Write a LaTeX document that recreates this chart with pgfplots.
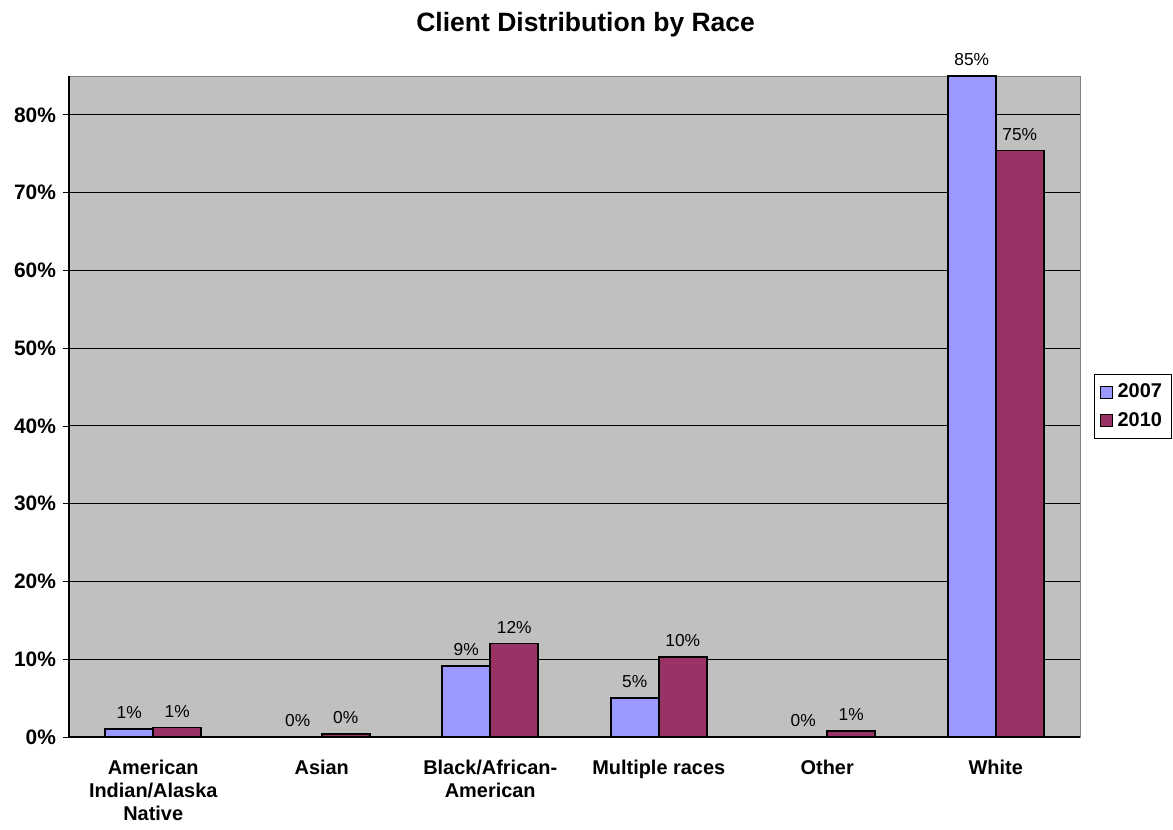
\documentclass[border=0pt]{standalone}
\usepackage{pgfplots}
\pgfplotsset{compat=1.18}
\usepackage{fontspec}
\setmainfont{Liberation Sans}
\definecolor{bgc}{HTML}{C0C0C0}
\definecolor{c07}{HTML}{9999FF}
\definecolor{c10}{HTML}{993366}
\begin{document}
\begin{tikzpicture}
\useasboundingbox (-34.5bp,-46.5bp) rectangle (552bp,368.5bp);
\begin{axis}[
  at={(0,0)}, anchor=south west,
  scale only axis, width=505.5bp, height=330.5bp,
  ybar=0pt, bar width=24bp,
  xmin=-0.5, xmax=5.5, ymin=0, ymax=85,
  xtick={0,1,2,3,4,5},
  xticklabels={American\\Indian/Alaska\\Native, Asian, Black/African-\\American, Multiple races, Other, White},
  xticklabel style={font=\fontsize{10}{11.5}\selectfont\bfseries, align=center, text depth=0pt, yshift=-5bp},
  major x tick style={draw=none},
  extra x ticks={-0.5,0.5,1.5,2.5,3.5,4.5,5.5},
  extra x tick labels={},
  extra x tick style={tick align=outside, major tick length=4bp, grid=none, tick style={black, thin}},
  ytick={0,10,20,30,40,50,60,70,80},
  yticklabel={\pgfmathprintnumber{\tick}\%},
  yticklabel style={font=\fontsize{10.5}{12}\selectfont\bfseries},
  /pgf/number format/assume math mode=true,
  ymajorgrids, grid style={black, line width=0.5pt},
  y tick style={black, thin}, tick align=outside, major tick length=3bp,
  xtick pos=bottom, ytick pos=left,
  axis line style={draw=gray},
  axis background/.style={fill=bgc},
  nodes near coords={\pgfmathprintnumber[fixed,precision=0]{\pgfplotspointmeta}\%},
  every node near coord/.append style={font=\fontsize{8.7}{10}\selectfont, black, yshift=1.5bp},
  legend style={at={(1.014,0.549)}, anchor=north west, draw=black, line width=0.5pt, font=\fontsize{10}{12}\selectfont\bfseries, row sep=2bp, inner sep=2.5bp,
    nodes={inner xsep=2.5bp}},
  legend cell align=left,
  legend image code/.code={\draw[#1, line width=0.5pt] (0bp,-3bp) rectangle (6bp,3bp);},
  clip=false,
]
\addplot[fill=c07, draw=black, line width=0.8pt] coordinates {(0,1.0) (1,0) (2,9.1) (3,5.0) (4,0) (5,85.0)};
\addplot[fill=c10, draw=black, line width=0.8pt] coordinates {(0,1.2) (1,0.4) (2,12.0) (3,10.3) (4,0.8) (5,75.4)};
\legend{2007,2010}
\draw[black, line width=0.6pt] (rel axis cs:0,0) -- (rel axis cs:0,1);
\draw[black, line width=0.6pt] (rel axis cs:0,0) -- (rel axis cs:1,0);
\node[font=\fontsize{13.3}{15}\selectfont\bfseries] at (rel axis cs:0.511,1.078) {Client Distribution by Race};
\end{axis}
\end{tikzpicture}
\end{document}
